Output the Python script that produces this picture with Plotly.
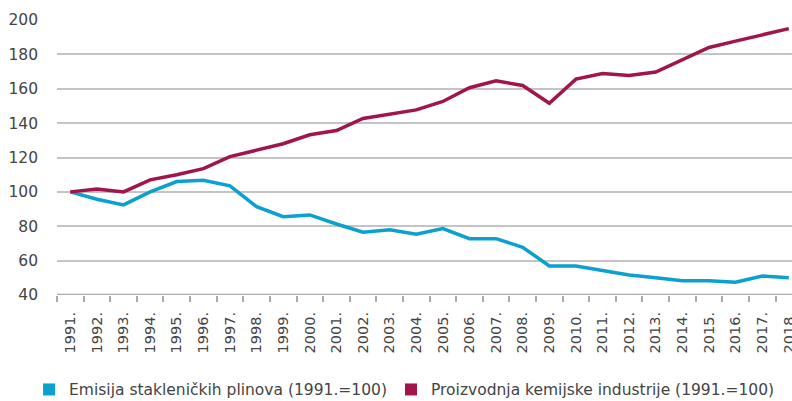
import plotly.graph_objects as go

years = [f"{y}." for y in range(1991, 2019)]
emisija = [100, 95.7, 92.4, 100, 106, 106.8, 103.5, 91.4, 85.6, 86.6, 81.3, 76.5, 77.9, 75.3,
           78.6, 72.8, 72.8, 67.8, 56.9, 56.9, 54.2, 51.6, 50.1, 48.3, 48.3, 47.4, 51, 50.1]
kemija = [100, 101.6, 100, 107, 110, 113.5, 120.5, 124, 128, 133.2, 135.7, 142.7, 145.2, 147.7,
          152.6, 160.6, 164.6, 161.9, 151.6, 165.6, 168.9, 167.7, 169.7, 176.9, 184, 187.7, 191.2, 195]
names = ["Emisija stakleničkih plinova (1991.=100)", "Proizvodnja kemijske industrije (1991.=100)"]
colors = ["#0aa0cf", "#a1144c"]
yticks = [40, 60, 80, 100, 120, 140, 160, 180, 200]

FONT = "DejaVu Sans, sans-serif"

fig = go.Figure()
for vals, col in zip([emisija, kemija], colors):
    fig.add_trace(go.Scatter(x=years, y=vals, mode="lines", line=dict(color=col, width=3.5),
                             showlegend=False))
for nm, col, lg in zip(names, colors, ["legend", "legend2"]):
    fig.add_trace(go.Scatter(x=[None], y=[None], mode="markers", name=nm,
                             marker=dict(symbol="square", size=12, color=col), legend=lg))

leg = dict(y=-0.345, xanchor="left", yanchor="middle", orientation="h",
           font=dict(size=15.5, color="#444444"), itemwidth=30, tracegroupgap=0,
           bgcolor="rgba(0,0,0,0)")
fig.update_layout(
    width=792, height=401,
    margin=dict(l=57, r=0, t=20, b=106, autoexpand=False),
    plot_bgcolor="white", paper_bgcolor="white",
    font=dict(family=FONT, color="#444444", size=15),
    legend=dict(x=-0.038, **leg),
    legend2=dict(x=0.4544, **leg),
)
fig.update_xaxes(type="category", range=[-0.5, 27.12], tickson="boundaries",
                 ticks="outside", ticklen=6, tickwidth=2, tickcolor="#aaaaaa",
                 tickangle=-90, tickfont=dict(size=14.5, color="#444444"),
                 ticklabelstandoff=13, automargin=False,
                 showgrid=False, showline=False, zeroline=False)
fig.update_yaxes(range=[40, 200], tickvals=yticks, showgrid=True, gridcolor="#c4c4c4",
                 gridwidth=1.5, zeroline=False, showline=False, ticks="", automargin=False,
                 tickfont=dict(size=15.5, color="#444444"), ticklabelstandoff=18)
fig.add_shape(type="line", xref="paper", yref="y", x0=0, x1=1, y0=40, y1=40,
              line=dict(color="#aaaaaa", width=2.5))
fig.write_html("out.html", config={"displayModeBar": False},
               post_script="document.body.style.margin='0';document.body.style.overflow='hidden';")
